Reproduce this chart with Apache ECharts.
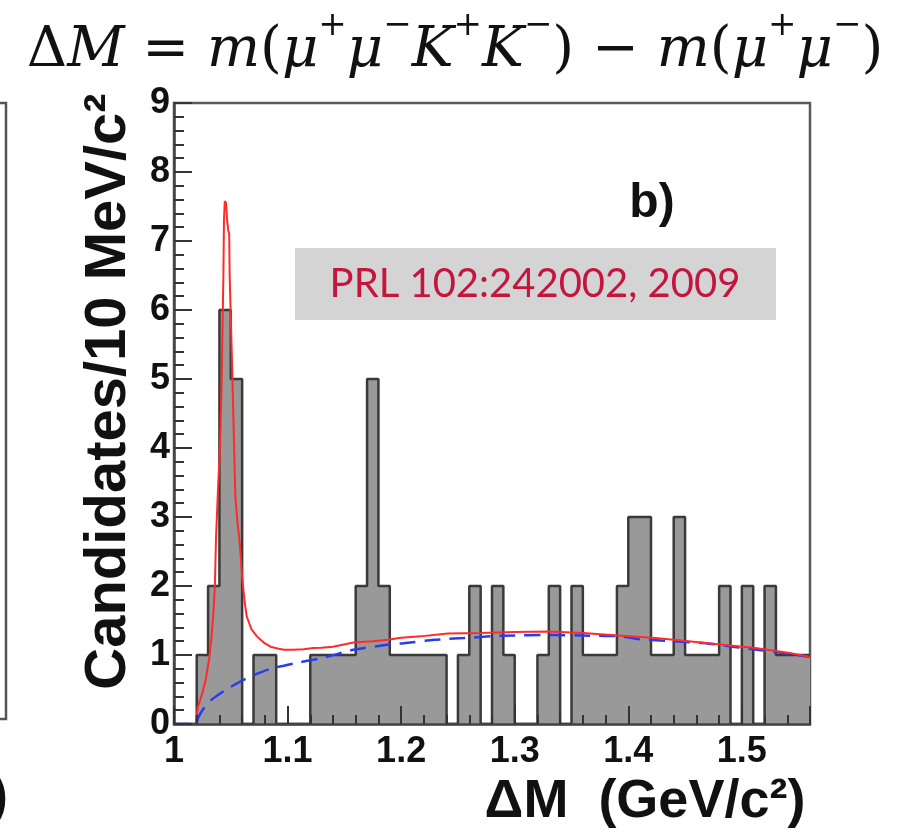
<!DOCTYPE html>
<html><head><meta charset="utf-8">
<script src="https://cdn.jsdelivr.net/npm/echarts@6/dist/echarts.min.js"></script>
<style>html,body{margin:0;padding:0;background:#fff}#c{width:914px;height:836px}</style>
</head><body><div id="c"></div>
<script>
// Histogram bins: lower edges (GeV/c^2), 10 MeV wide
const binLow = [1.00,1.01,1.02,1.03,1.04,1.05,1.06,1.07,1.08,1.09,
                1.10,1.11,1.12,1.13,1.14,1.15,1.16,1.17,1.18,1.19,
                1.20,1.21,1.22,1.23,1.24,1.25,1.26,1.27,1.28,1.29,
                1.30,1.31,1.32,1.33,1.34,1.35,1.36,1.37,1.38,1.39,
                1.40,1.41,1.42,1.43,1.44,1.45,1.46,1.47,1.48,1.49,
                1.50,1.51,1.52,1.53,1.54,1.55];
const binHighLast = 1.56;
const counts = [0,0,1,2,6,5,0,1,1,0,
                0,0,1,1,1,1,2,5,2,1,
                1,1,1,1,0,1,2,0,2,1,
                0,0,1,2,0,2,1,1,1,2,
                3,3,1,1,3,1,1,1,2,0,
                2,0,2,1,1,1];
// Total fit (red)
const fitX = [1.000,1.019,1.021,1.025,1.028,1.031,1.033,1.035,1.036,1.037,1.039,1.0405,1.042,1.043,1.0435,1.044,1.0447,1.0458,1.0468,1.0478,1.0486,1.049,1.050,1.051,1.0525,1.054,1.056,1.058,1.060,1.062,1.064,1.068,1.073,1.079,1.085,1.092,1.097,1.105,1.114,1.123,1.130,1.140,1.158,1.175,1.188,1.200,1.217,1.241,1.270,1.300,1.330,1.360,1.394,1.424,1.453,1.483,1.512,1.542,1.560];
const fitY = [0,0,0.25,0.45,0.65,0.95,1.25,1.7,2.0,2.7,3.5,4.0,5.0,6.0,6.5,7.3,7.58,7.55,7.3,7.15,7.1,6.5,5.9,5.3,4.3,3.3,2.9,2.6,2.14,1.8,1.56,1.38,1.27,1.18,1.12,1.09,1.075,1.075,1.085,1.10,1.105,1.12,1.18,1.20,1.22,1.25,1.27,1.31,1.32,1.335,1.34,1.32,1.28,1.245,1.20,1.15,1.10,1.03,0.97];
// Background (blue dashed)
const bkgX = [1.000,1.0195,1.021,1.025,1.033,1.048,1.065,1.085,1.109,1.129,1.158,1.188,1.202,1.229,1.255,1.290,1.335,1.365,1.394,1.409,1.440,1.468,1.497,1.536,1.560];
const bkgY = [0,0,0.08,0.2,0.35,0.52,0.67,0.8,0.89,0.95,1.075,1.15,1.17,1.22,1.245,1.28,1.29,1.28,1.27,1.23,1.2,1.17,1.11,1.03,0.97];

const hist = binLow.map((x,i)=>[x,counts[i]]);
hist.push([binHighLast, counts[counts.length-1]]);
const fit = fitX.map((x,i)=>[x,fitY[i]]);
const bkg = bkgX.map((x,i)=>[x,bkgY[i]]);

const BOLD = 'Liberation Sans';
const chart = echarts.init(document.getElementById('c'), null, {renderer:'canvas'});
chart.setOption({
  backgroundColor:'#fff',
  animation:false,
  grid:{left:174, top:103, right:104, bottom:112, show:true, borderColor:'#5a5a5a', borderWidth:2.5, backgroundColor:'rgba(0,0,0,0)'},
  xAxis:{
    type:'value', min:1, max:1.56, interval:0.1, z:10,
    axisLine:{show:true, lineStyle:{color:'#444', width:2.5}},
    axisTick:{show:true, inside:true, length:18, lineStyle:{color:'#333', width:2}},
    minorTick:{show:true, splitNumber:5, length:9, lineStyle:{color:'#333', width:2}},
    splitLine:{show:false},
    axisLabel:{showMaxLabel:false, margin:10, color:'#111', fontFamily:BOLD, fontWeight:'bold', fontSize:36},
    name:'ΔM  (GeV/c²)', nameLocation:'middle', nameGap:39,
    nameTextStyle:{color:'#111', fontFamily:BOLD, fontWeight:'bold', fontSize:54, padding:[0,0,0,306]}
  },
  yAxis:{
    type:'value', min:0, max:9, interval:1, z:10,
    axisLine:{show:true, lineStyle:{color:'#444', width:2.5}},
    axisTick:{show:true, inside:true, length:18, lineStyle:{color:'#333', width:2}},
    minorTick:{show:true, splitNumber:5, length:10, lineStyle:{color:'#333', width:2}},
    splitLine:{show:false},
    axisLabel:{margin:4, color:'#111', fontFamily:BOLD, fontWeight:'bold', fontSize:36},
    name:'Candidates/10 MeV/c²', nameLocation:'middle', nameGap:36,
    nameTextStyle:{color:'#111', fontFamily:BOLD, fontWeight:'bold', fontSize:58, padding:[0,0,0,44]}
  },
  series:[
    {type:'line', step:'end', data:hist, symbol:'none', z:2,
     lineStyle:{color:'#3a3a3a', width:2.5}, areaStyle:{color:'#999999', opacity:1}},
    {type:'line', data:bkg, symbol:'none', z:3, smooth:0.2,
     lineStyle:{color:'#2a3cf0', width:2.5, type:[16,9]}},
    {type:'line', data:fit, symbol:'none', z:4,
     lineStyle:{color:'#ff2a2a', width:2}}
  ],
  graphic:[
    {type:'rect', shape:{x:295, y:248, width:481, height:72}, style:{fill:'#d4d4d4'}, z:5},
    {type:'text', x:535, y:284, z:6, style:{text:'PRL 102:242002, 2009', fill:'#c4163c', font:'40px Lato', textAlign:'center', textVerticalAlign:'middle'}},
    {type:'text', x:652, y:204, z:6, style:{text:'b)', fill:'#111', font:'bold 48px "Liberation Sans"', textAlign:'center', textVerticalAlign:'middle'}},
    {type:'polyline', shape:{points:[[0,103],[6,103],[6,719],[0,719]]}, style:{stroke:'#555', lineWidth:2.5, fill:null}},
    {type:'text', x:-10, y:798, style:{text:')', fill:'#111', font:'bold 54px "Liberation Sans"', textAlign:'left', textVerticalAlign:'middle'}},
    {type:'text', x:455, y:44, z:6, style:{
      text:'{u|Δ}{i|M}{u| = }{i|m}{u|(}{i|μ}{s|+}{i|μ}{s|−}{i|K}{s|+}{i|K}{s|−}{u|) − }{i|m}{u|(}{i|μ}{s|+}{i|μ}{s|−}{u|)}',
      textAlign:'center', textVerticalAlign:'middle',
      rich:{
        u:{fontFamily:'DejaVu Serif', fontSize:56, fontStyle:'normal', fill:'#111', lineHeight:70, verticalAlign:'bottom'},
        i:{fontFamily:'DejaVu Serif', fontSize:56, fontStyle:'italic', fill:'#111', lineHeight:70, verticalAlign:'bottom'},
        s:{fontFamily:'DejaVu Serif', fontSize:34, fontStyle:'normal', fill:'#111', lineHeight:38, verticalAlign:'top'}
      }}}
  ]
});
</script></body></html>
